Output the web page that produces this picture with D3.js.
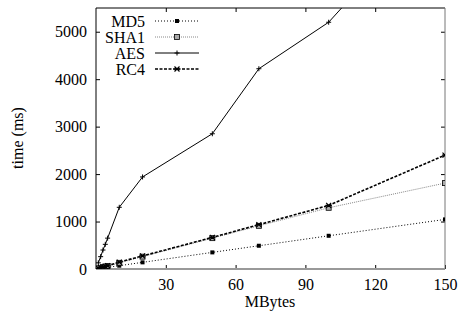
<!DOCTYPE html>
<html><head><meta charset="utf-8">
<script src="https://cdn.jsdelivr.net/npm/d3@7/dist/d3.min.js"></script>
<style>body{margin:0;background:#fff}svg{display:block}text{font-family:"Liberation Serif","DejaVu Serif",serif;fill:#000}</style>
</head><body><svg id="c" width="464" height="320"></svg>
<script>
const mbytes = [1, 2, 3, 4, 5, 10, 20, 50, 70, 100, 150];
const md5  = [7, 14, 21, 28, 35, 70, 140, 350, 490, 700, 1045];
const sha1 = [13, 26, 39, 52, 65, 130, 260, 650, 910, 1290, 1810];
const aes  = [130, 260, 400, 520, 650, 1300, 1940, 2850, 4220, 5200, 7900];
const rc4  = [14, 28, 41, 55, 68, 145, 275, 665, 935, 1340, 2400];
const xTicks = [30, 60, 90, 120, 150];
const yTicks = [0, 1000, 2000, 3000, 4000, 5000];
const seriesNames = ["MD5", "SHA1", "AES", "RC4"];

const svg = d3.select("#c");
const L = 96, R = 445, T = 8, B = 269;
const x = d3.scaleLinear().domain([0, 150]).range([L, R]);
const y = d3.scaleLinear().domain([0, 5500]).range([B, T]);

const series = [
  {name: seriesNames[0], vals: md5,  stroke: "#000", dash: "1,2", w: 1, mark: "sq"},
  {name: seriesNames[1], vals: sha1, stroke: "#888", dash: "1,1", w: 1, mark: "box"},
  {name: seriesNames[2], vals: aes,  stroke: "#000", dash: null, w: 1, mark: "plus"},
  {name: seriesNames[3], vals: rc4,  stroke: "#000", dash: "3,1.5", w: 1.6, mark: "x"}
];

svg.append("defs").append("clipPath").attr("id", "clip")
  .append("rect").attr("x", L).attr("y", T).attr("width", R - L).attr("height", B - T);

const fmt = d3.format("d");
const gx = svg.append("g").attr("transform", `translate(0,${B})`)
  .call(d3.axisBottom(x).tickValues(xTicks).tickSize(-4).tickPadding(10).tickFormat(fmt));
const gxt = svg.append("g").attr("transform", `translate(0,${T})`)
  .call(d3.axisTop(x).tickValues(xTicks.slice(0, 4)).tickSize(-4).tickFormat(""));
const gy = svg.append("g").attr("transform", `translate(${L},0)`)
  .call(d3.axisLeft(y).tickValues(yTicks).tickSize(-4).tickPadding(9).tickFormat(fmt));
const gyr = svg.append("g").attr("transform", `translate(${R},0)`)
  .call(d3.axisRight(y).tickValues(yTicks.slice(1)).tickSize(-4).tickFormat(""));
[gx, gxt, gy, gyr].forEach(g => {
  g.attr("font-family", "Liberation Serif").attr("font-size", 16);
  g.select(".domain").remove();
  g.selectAll("line").attr("stroke", "#000");
});

// frame
svg.append("line").attr("x1", L).attr("x2", R).attr("y1", T).attr("y2", T).attr("stroke", "#000");
svg.append("line").attr("x1", L).attr("x2", L).attr("y1", T).attr("y2", B).attr("stroke", "#000");
svg.append("line").attr("x1", R).attr("x2", R).attr("y1", T).attr("y2", B).attr("stroke", "#777");
svg.append("line").attr("x1", L).attr("x2", R).attr("y1", B).attr("y2", B).attr("stroke", "#999").attr("stroke-width", 2);

function marker(g, kind, cx, cy) {
  if (kind === "sq") {
    g.append("rect").attr("x", cx - 2).attr("y", cy - 2).attr("width", 4).attr("height", 4).attr("fill", "#000");
  } else if (kind === "box") {
    g.append("rect").attr("x", cx - 2.5).attr("y", cy - 2.5).attr("width", 5).attr("height", 5)
      .attr("fill", "#aaa").attr("stroke", "#000").attr("stroke-width", 0.8);
  } else if (kind === "plus") {
    g.append("path").attr("d", `M${cx-2.5},${cy}H${cx+2.5}M${cx},${cy-2.5}V${cy+2.5}`).attr("stroke", "#000").attr("stroke-width", 1);
  } else {
    g.append("path").attr("d", `M${cx-2.5},${cy-2.5}L${cx+2.5},${cy+2.5}M${cx-2.5},${cy+2.5}L${cx+2.5},${cy-2.5}M${cx-3},${cy}H${cx+3}`)
      .attr("stroke", "#000").attr("stroke-width", 1.2);
  }
}

const plot = svg.append("g").attr("clip-path", "url(#clip)");
const line = d3.line().x((d, i) => x(mbytes[i])).y(d => y(d));
series.forEach(s => {
  plot.append("path").datum(s.vals).attr("d", line).attr("fill", "none")
    .attr("stroke", s.stroke).attr("stroke-width", s.w).attr("stroke-dasharray", s.dash);
});
series.forEach(s => {
  const g = plot.append("g");
  s.vals.forEach((v, i) => marker(g, s.mark, x(mbytes[i]), y(v)));
});

// legend
const legY = [21, 37, 53, 69];
series.forEach((s, i) => {
  const ly = legY[i];
  svg.append("text").attr("x", 145).attr("y", ly).attr("dy", "0.35em").attr("text-anchor", "end")
    .style("font-size", "16px").text(s.name);
  svg.append("line").attr("x1", 155).attr("x2", 199).attr("y1", ly).attr("y2", ly)
    .attr("stroke", s.stroke).attr("stroke-width", s.w).attr("stroke-dasharray", s.dash);
  marker(svg.append("g"), s.mark, 177, ly);
});

// axis titles
svg.append("text").attr("transform", "translate(23,138) rotate(-90)").attr("text-anchor", "middle")
  .style("font-size", "16px").text("time (ms)");
svg.append("text").attr("x", 270).attr("y", 307).attr("text-anchor", "middle")
  .style("font-size", "16px").text("MBytes");
</script></body></html>
